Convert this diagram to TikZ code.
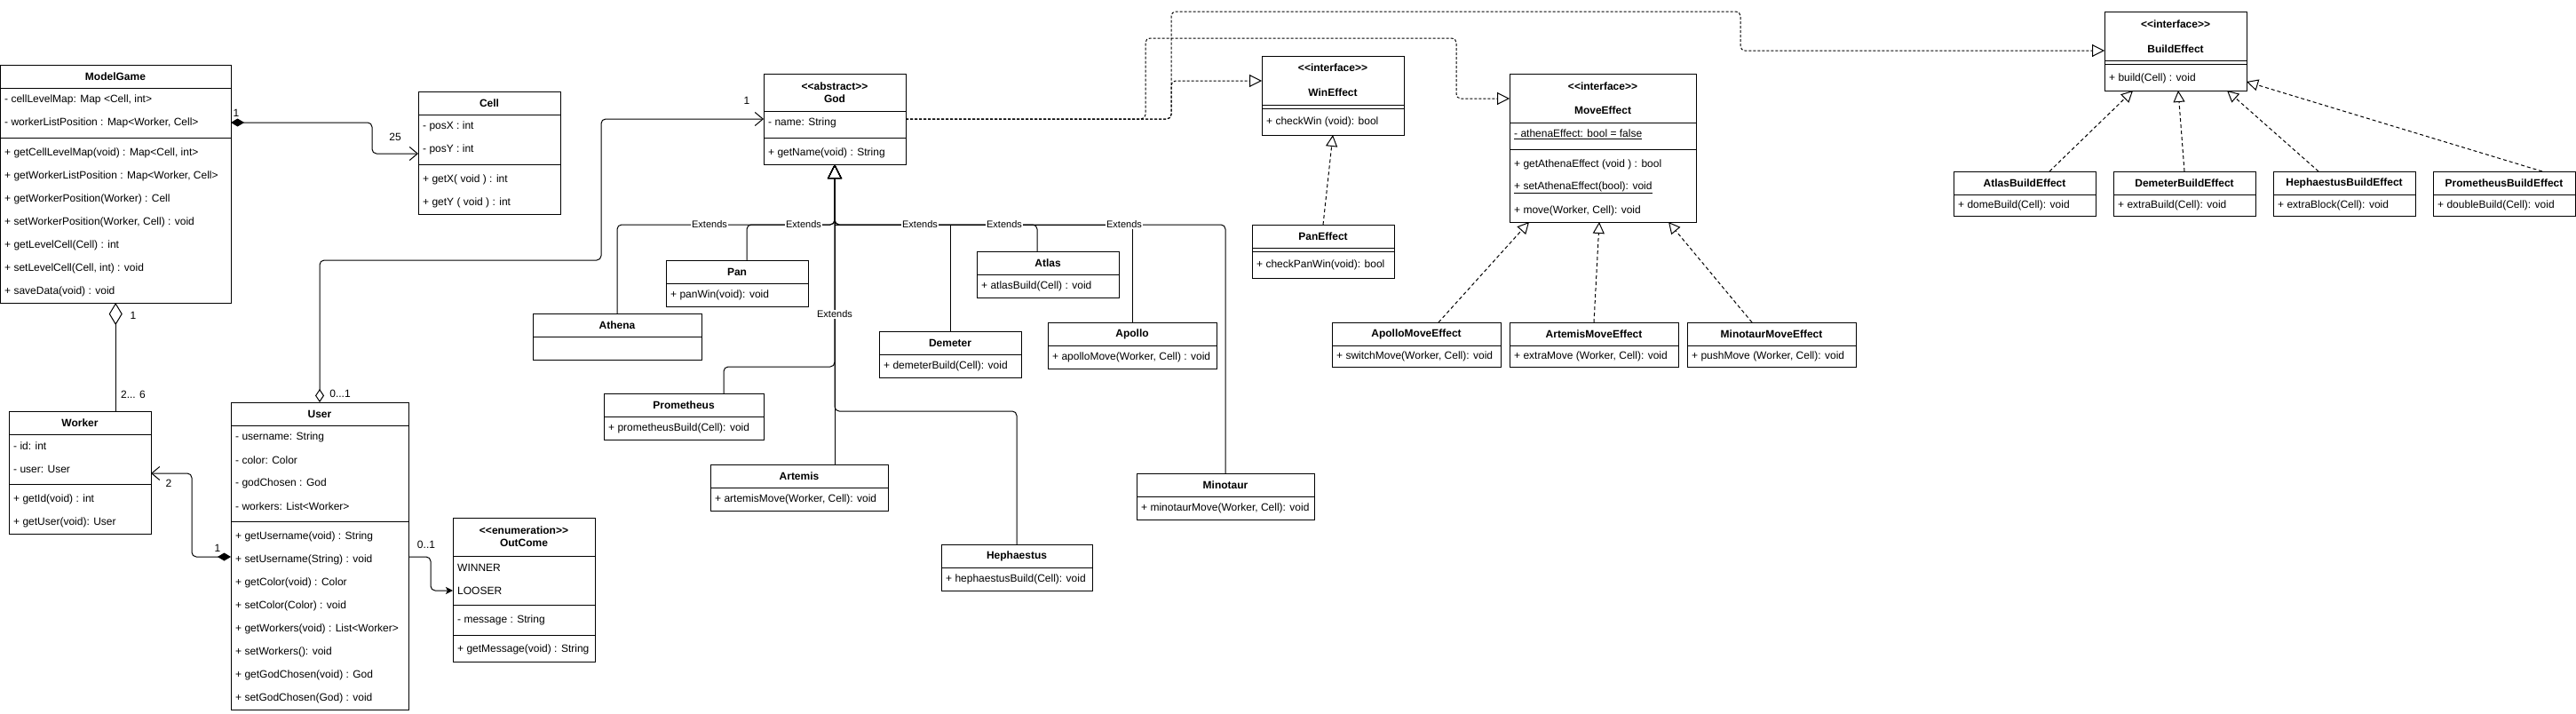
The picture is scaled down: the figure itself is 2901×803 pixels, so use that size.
\documentclass[tikz,border=0pt]{standalone}
\usepackage{fontspec}
\setmainfont{Liberation Sans}
\usetikzlibrary{arrows.meta}

\begin{document}
\begin{tikzpicture}[x=1pt,y=-1pt,font=\fontsize{12}{14}\selectfont,
    cls/.style={draw,line width=1pt,inner sep=0pt,outer sep=0pt,anchor=north west},
    ttl/.style={font=\fontsize{12}{14}\selectfont\bfseries,inner sep=0pt},
    row/.style={anchor=west,inner sep=0pt},
    lbl/.style={inner sep=0pt},
    ext/.style={fill=white,inner sep=1pt,font=\fontsize{11}{13}\selectfont},
    sep/.style={line width=1pt},
    wire/.style={line width=1pt,rounded corners=5pt},
    barb/.style={-{Straight Barb[length=9pt,width=15pt]}},
    gen/.style={wire,-{Triangle[open,length=16pt,width=16pt]}},
    real/.style={line width=1pt,dash pattern=on 4pt off 3pt,-{Triangle[open,length=13pt,width=13pt]}},
    dep/.style={wire,dash pattern=on 3pt off 2pt,-{Triangle[open,length=14pt,width=14pt]}}]

    \useasboundingbox (0,0) rectangle (2901,803);

    % ModelGame
    \node[cls,minimum width=259.5,minimum height=268] (modelgame) at (0.5,73) {};
    \node[ttl] (mg-t) at (130,86) {ModelGame};
    \draw[sep] (0,99) -- (260,99);
    \draw[sep] (0,155) -- (260,155);
    \foreach \t [count=\i] in {{- cellLevelMap: Map <Cell, int>},{- workerListPosition : Map<Worker, Cell>}}
        \node[row] (mga\i) at (5,86+26*\i) {\t};
    \foreach \t [count=\i] in {{+ getCellLevelMap(void) : Map<Cell, int>},{+ getWorkerListPosition : Map<Worker, Cell>},
        {+ getWorkerPosition(Worker) : Cell},{+ setWorkerPosition(Worker, Cell) : void},{+ getLevelCell(Cell) : int},
        {+ setLevelCell(Cell, int) : void},{+ saveData(void) : void}}
        \node[row] (mgm\i) at (5,146+26*\i) {\t};

    % Cell
    \node[cls,minimum width=160,minimum height=138] (cell) at (471,103) {};
    \node[ttl] (cell-t) at (551,116) {Cell};
    \draw[sep] (471,129) -- (631,129);
    \draw[sep] (471,185) -- (631,185);
    \node[row] (cella1) at (476,142) {- posX : int};
    \node[row] (cella2) at (476,168) {- posY : int};
    \node[row] (cellm1) at (476,202) {+ getX( void ) : int};
    \node[row] (cellm2) at (476,228) {+ getY ( void ) : int};

    % Worker
    \node[cls,minimum width=160,minimum height=138] (worker) at (10,463) {};
    \node[ttl] (wk-t) at (90,476) {Worker};
    \draw[sep] (10,489) -- (170,489);
    \draw[sep] (10,545) -- (170,545);
    \node[row] (wka1) at (15,502) {- id: int};
    \node[row] (wka2) at (15,528) {- user: User};
    \node[row] (wkm1) at (15,562) {+ getId(void) : int};
    \node[row] (wkm2) at (15,588) {+ getUser(void): User};

    % User
    \node[cls,minimum width=200,minimum height=346] (user) at (260,453) {};
    \node[ttl] (us-t) at (360,466) {User};
    \draw[sep] (260,479) -- (460,479);
    \draw[sep] (260,587) -- (460,587);
    \foreach \t [count=\i] in {{- username: String},{- color: Color},{- godChosen : God},{- workers: List<Worker>}}
        \node[row] (usa\i) at (265,466+26*\i) {\t};
    \foreach \t [count=\i] in {{+ getUsername(void) : String},{+ setUsername(String) : void},{+ getColor(void) : Color},
        {+ setColor(Color) : void},{+ getWorkers(void) : List<Worker>},{+ setWorkers(): void},
        {+ getGodChosen(void) : God},{+ setGodChosen(God) : void}}
        \node[row] (usm\i) at (265,578+26*\i) {\t};

    % OutCome
    \node[cls,minimum width=160,minimum height=162] (outcome) at (510,583) {};
    \node[ttl] (oc-s) at (590,597) {<{}<enumeration>{}>};
    \node[ttl] (oc-t) at (590,611) {OutCome};
    \draw[sep] (510,626) -- (670,626);
    \node[row] (oc1) at (515,639) {WINNER};
    \node[row] (oc2) at (515,665) {LOOSER};
    \draw[sep] (510,681) -- (670,681);
    \node[row] (oca1) at (515,698) {- message : String};
    \draw[sep] (510,715) -- (670,715);
    \node[row] (ocm1) at (515,731) {+ getMessage(void) : String};

    % God and its subclasses
    \node[cls,minimum width=160,minimum height=102] (god) at (860,83) {};
    \node[ttl] (god-s) at (940,97) {<{}<abstract>{}>};
    \node[ttl] (god-t) at (940,111) {God};
    \draw[sep] (860,125) -- (1020,125);
    \draw[sep] (860,155) -- (1020,155);
    \node[row] (goda1) at (865,138) {- name: String};
    \node[row] (godm1) at (865,172) {+ getName(void) : String};

    \node[cls,minimum width=190,minimum height=52] (athena) at (600,353) {};
    \node[ttl] (athena-t) at (695,366) {Athena};
    \draw[sep] (600,379) -- (790,379);

    \node[cls,minimum width=160,minimum height=52] (pan) at (750,293) {};
    \node[ttl] (pan-t) at (830,306) {Pan};
    \draw[sep] (750,319) -- (910,319);
    \node[row] (panm1) at (755,332) {+ panWin(void): void};

    \node[cls,minimum width=160,minimum height=52] (atlas) at (1100,283) {};
    \node[ttl] (atlas-t) at (1180,296) {Atlas};
    \draw[sep] (1100,309) -- (1260,309);
    \node[row] (atlasm1) at (1105,322) {+ atlasBuild(Cell) : void};

    \node[cls,minimum width=160,minimum height=52] (demeter) at (990,373) {};
    \node[ttl] (demeter-t) at (1070,386) {Demeter};
    \draw[sep] (990,399) -- (1150,399);
    \node[row] (demeterm1) at (995,412) {+ demeterBuild(Cell): void};

    \node[cls,minimum width=190,minimum height=52] (apollo) at (1180,363) {};
    \node[ttl] (apollo-t) at (1275,376) {Apollo};
    \draw[sep] (1180,389) -- (1370,389);
    \node[row] (apollom1) at (1185,402) {+ apolloMove(Worker, Cell) : void};

    \node[cls,minimum width=180,minimum height=52] (prometheus) at (680,443) {};
    \node[ttl] (prometheus-t) at (770,456) {Prometheus};
    \draw[sep] (680,469) -- (860,469);
    \node[row] (prometheusm1) at (685,482) {+ prometheusBuild(Cell): void};

    \node[cls,minimum width=200,minimum height=52] (artemis) at (800,523) {};
    \node[ttl] (artemis-t) at (900,536) {Artemis};
    \draw[sep] (800,549) -- (1000,549);
    \node[row] (artemism1) at (805,562) {+ artemisMove(Worker, Cell): void};

    \node[cls,minimum width=170,minimum height=52] (hephaestus) at (1060,613) {};
    \node[ttl] (hephaestus-t) at (1145,626) {Hephaestus};
    \draw[sep] (1060,639) -- (1230,639);
    \node[row] (hephaestusm1) at (1065,652) {+ hephaestusBuild(Cell): void};

    \node[cls,minimum width=200,minimum height=52] (minotaur) at (1280,533) {};
    \node[ttl] (minotaur-t) at (1380,546) {Minotaur};
    \draw[sep] (1280,559) -- (1480,559);
    \node[row] (minotaurm1) at (1285,572) {+ minotaurMove(Worker, Cell): void};

    % interfaces
    \node[cls,minimum width=160,minimum height=89] (winfx) at (1421,63) {};
    \node[ttl] (winfx-s) at (1501,76) {<{}<interface>{}>};
    \node[ttl] (winfx-t) at (1501,104) {WinEffect};
    \draw[sep] (1421,118) -- (1581,118);
    \draw[sep] (1421,122) -- (1581,122);
    \node[row] (winfxm1) at (1426,137) {+ checkWin (void): bool};

    \node[cls,minimum width=160,minimum height=60] (panfx) at (1410,253) {};
    \node[ttl] (panfx-t) at (1490,266) {PanEffect};
    \draw[sep] (1410,279) -- (1570,279);
    \draw[sep] (1410,283) -- (1570,283);
    \node[row] (panfxm1) at (1415,298) {+ checkPanWin(void): bool};

    \node[cls,minimum width=210,minimum height=167] (movefx) at (1700,83) {};
    \node[ttl] (movefx-s) at (1805,97) {<{}<interface>{}>};
    \node[ttl] (movefx-t) at (1805,124) {MoveEffect};
    \draw[sep] (1700,138) -- (1910,138);
    \draw[sep] (1700,168) -- (1910,168);
    \node[row] (movefxa1) at (1705,151) {\underline{- athenaEffect: bool = false}};
    \node[row] (movefxm1) at (1705,185) {+ getAthenaEffect (void ) : bool};
    \node[row] (movefxm2) at (1705,211) {\underline{+ setAthenaEffect(bool): void}};
    \node[row] (movefxm3) at (1705,237) {+ move(Worker, Cell): void};

    \node[cls,minimum width=190,minimum height=50] (apollomv) at (1500,363) {};
    \node[ttl] (apollomv-t) at (1595,376) {ApolloMoveEffect};
    \draw[sep] (1500,389) -- (1690,389);
    \node[row] (apollomvm1) at (1505,401) {+ switchMove(Worker, Cell): void};

    \node[cls,minimum width=190,minimum height=50] (artemismv) at (1700,363) {};
    \node[ttl] (artemismv-t) at (1795,376) {ArtemisMoveEffect};
    \draw[sep] (1700,389) -- (1890,389);
    \node[row] (artemismvm1) at (1705,401) {+ extraMove (Worker, Cell): void};

    \node[cls,minimum width=190,minimum height=50] (minotaurmv) at (1900,363) {};
    \node[ttl] (minotaurmv-t) at (1995,376) {MinotaurMoveEffect};
    \draw[sep] (1900,389) -- (2090,389);
    \node[row] (minotaurmvm1) at (1905,401) {+ pushMove (Worker, Cell): void};

    \node[cls,minimum width=160,minimum height=89] (buildfx) at (2370,13) {};
    \node[ttl] (buildfx-s) at (2450,27) {<{}<interface>{}>};
    \node[ttl] (buildfx-t) at (2450,55) {BuildEffect};
    \draw[sep] (2370,68) -- (2530,68);
    \draw[sep] (2370,72) -- (2530,72);
    \node[row] (buildfxm1) at (2375,88) {+ build(Cell) : void};

    \node[cls,minimum width=160,minimum height=50] (atlasbe) at (2200,193) {};
    \node[ttl] (atlasbe-t) at (2280,206) {AtlasBuildEffect};
    \draw[sep] (2200,219) -- (2360,219);
    \node[row] (atlasbem1) at (2205,231) {+ domeBuild(Cell): void};

    \node[cls,minimum width=160,minimum height=50] (demeterbe) at (2380,193) {};
    \node[ttl] (demeterbe-t) at (2460,206) {DemeterBuildEffect};
    \draw[sep] (2380,219) -- (2540,219);
    \node[row] (demeterbem1) at (2385,231) {+ extraBuild(Cell): void};

    \node[cls,minimum width=160,minimum height=50] (hephbe) at (2560,193) {};
    \node[ttl] (hephbe-t) at (2640,206) {HephaestusBuildEffect};
    \draw[sep] (2560,219) -- (2720,219);
    \node[row] (hephbem1) at (2565,231) {+ extraBlock(Cell): void};

    \node[cls,minimum width=160,minimum height=50] (prombe) at (2740,193) {};
    \node[ttl] (prombe-t) at (2820,206) {PrometheusBuildEffect};
    \draw[sep] (2740,219) -- (2900,219);
    \node[row] (prombem1) at (2745,231) {+ doubleBuild(Cell): void};

    % associations
    \draw[wire,{Diamond[length=15pt,width=9pt]}-{Straight Barb[length=9pt,width=15pt]}]
        (modelgame.east |- mga2) -- ++(159,0) |- ([yshift=-70]cell.north west);
    \draw[wire,{Diamond[open,length=25pt,width=15pt]}-] (modelgame.south) -- (modelgame.south |- worker.north);
    \draw[wire,{Diamond[open,length=15pt,width=10pt]}-{Straight Barb[length=9pt,width=15pt]}]
        (user.north) |- (677,293) |- (god.west);
    \draw[wire,{Diamond[length=15pt,width=9pt]}-{Straight Barb[length=9pt,width=15pt]}]
        ([yshift=-174]user.north west) -- ++(-44,0) |- ([yshift=-70]worker.north east);
    \draw[wire,-{Stealth[length=8pt,width=8pt,inset=2pt]}]
        ([yshift=-174]user.north east) -- ++(25,0) |- (outcome.west |- oc2);

    \node[lbl] (l-mg) at (266,127) {1};
    \node[lbl] (l-cell) at (445,154) {25};
    \node[lbl] (l-agg1) at (150,355) {1};
    \node[lbl] (l-agg2) at (150,444) {2... 6};
    \node[lbl] (l-user) at (383,443) {0...1};
    \node[lbl] (l-god) at (841,113) {1};
    \node[lbl] (l-uw1) at (245,617) {1};
    \node[lbl] (l-uw2) at (190,544) {2};
    \node[lbl] (l-uo) at (480,613) {0..1};

    % generalisation tree
    \coordinate (bus) at (940,253);
    \coordinate (bus2) at (940,413);
    \coordinate (bus3) at (940,463);
    \draw[gen] (athena.north) |- (bus) -- (god.south);
    \draw[gen] ([xshift=11]pan.north) |- (bus) -- (god.south);
    \draw[gen,sharp corners] (demeter.north) |- (bus) -- (god.south);
    \draw[gen] ([xshift=-12]atlas.north) |- (bus) -- (god.south);
    \draw[gen,sharp corners] (apollo.north) |- (bus) -- (god.south);
    \draw[gen] (minotaur.north) |- (bus) -- (god.south);
    \draw[gen] ([xshift=45]prometheus.north) |- (bus2) -- (god.south);
    \draw[gen] (hephaestus.north) |- (bus3) -- (god.south);
    \draw[gen] (artemis.north -| god.south) -- (god.south);
    \foreach \x/\y [count=\i] in {799/253,905/253,1036/253,1131/253,1266/253,940/354}
        \node[ext] (ext\i) at (\x,\y) {Extends};

    % realisations
    \draw[dep] (god.east) -- (1319,134) |- ([yshift=-28]winfx.north west);
    \draw[dep] (god.east) -- (1290,134) -- (1290,43) -- (1640,43) |- ([yshift=-28]movefx.north west);
    \draw[dep] (god.east) -- (1319,134) -- (1319,13) -- (1960,13) |- ([yshift=-44]buildfx.north west);
    \draw[real] (panfx.north) -- (winfx.south);
    \draw[real] ([xshift=25]apollomv.north) -- ([xshift=-83]movefx.south);
    \draw[real] (artemismv.north) -- ([xshift=-4]movefx.south);
    \draw[real] ([xshift=-22]minotaurmv.north) -- ([xshift=74]movefx.south);
    \draw[real] ([xshift=28]atlasbe.north) -- ([xshift=-48]buildfx.south);
    \draw[real] (demeterbe.north) -- ([xshift=3]buildfx.south);
    \draw[real] ([xshift=-29]hephbe.north) -- ([xshift=58]buildfx.south);
    \draw[real] ([xshift=43]prombe.north) -- ([yshift=10]buildfx.south east);

\end{tikzpicture}
\end{document}
